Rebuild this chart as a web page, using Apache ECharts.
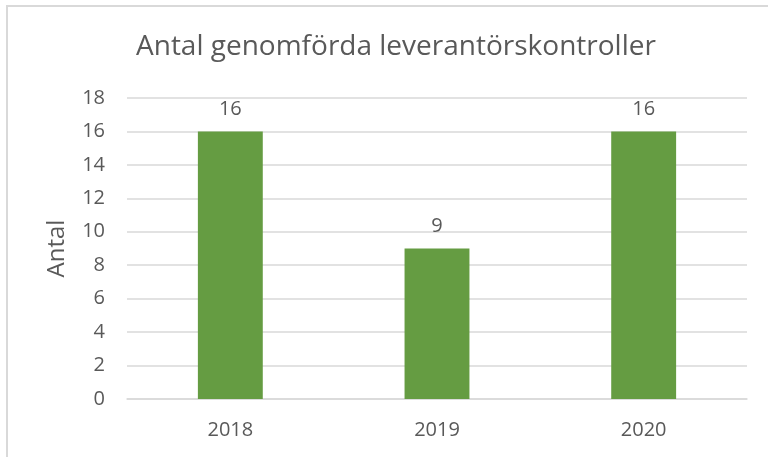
<!DOCTYPE html>
<html>
<head>
<meta charset="utf-8">
<script src="https://cdn.jsdelivr.net/npm/echarts@6/dist/echarts.min.js"></script>
<style>
html,body{margin:0;padding:0;background:#fff;}
#chart{width:768px;height:457px;}
</style>
</head>
<body>
<div id="chart"></div>
<script>
const titleText = 'Antal genomförda leverantörskontroller';
const yAxisName = 'Antal';
const categories = ['2018', '2019', '2020'];
const values = [16, 9, 16];
const yMin = 0, yMax = 18, yStep = 2;

const FONT = '"Open Sans", "Noto Sans", sans-serif';
const TEXT = '#595959';

const chart = echarts.init(document.getElementById('chart'), null, {renderer: 'canvas'});
chart.setOption({
  animation: false,
  backgroundColor: '#ffffff',
  graphic: [{
    type: 'rect',
    shape: {x: 7, y: 6, width: 800, height: 500},
    style: {fill: 'none', stroke: '#d9d9d9', lineWidth: 2},
    silent: true,
    z: -10
  }],
  title: {
    text: titleText,
    left: 131,
    top: 28,
    textStyle: {fontFamily: FONT, fontSize: 28, fontWeight: 'normal', color: TEXT}
  },
  grid: {left: 127, right: 21, top: 98, bottom: 58, containLabel: false},
  xAxis: {
    type: 'category',
    data: categories,
    axisLine: {show: true, lineStyle: {color: '#d9d9d9', width: 1.5}},
    axisTick: {show: false},
    axisLabel: {fontFamily: FONT, fontSize: 20, color: TEXT, margin: 21}
  },
  yAxis: {
    type: 'value',
    min: yMin, max: yMax, interval: yStep,
    name: yAxisName,
    nameLocation: 'middle',
    nameGap: 58,
    nameTextStyle: {fontFamily: FONT, fontSize: 24, color: TEXT},
    axisLine: {show: false},
    axisTick: {show: false},
    axisLabel: {fontFamily: FONT, fontSize: 20, color: TEXT, margin: 22},
    splitLine: {lineStyle: {color: '#d9d9d9', width: 1.5}}
  },
  series: [{
    type: 'bar',
    data: values,
    barWidth: '31.4%',
    itemStyle: {color: '#659c42'},
    label: {
      show: true, position: 'top', distance: 12,
      fontFamily: FONT, fontSize: 20, color: TEXT
    }
  }]
});
</script>
</body>
</html>
